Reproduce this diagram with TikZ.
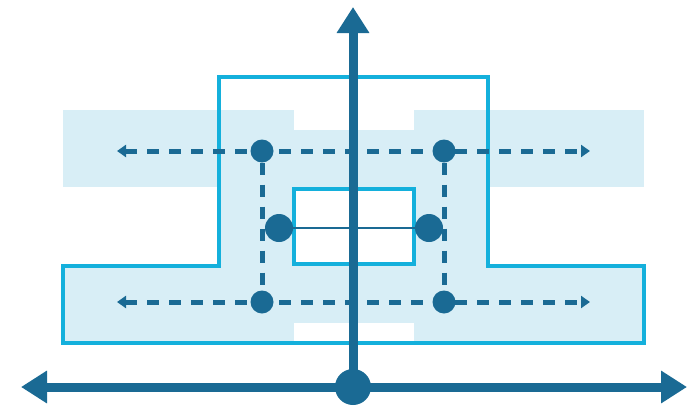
\documentclass[tikz,border=0pt]{standalone}
\usetikzlibrary{arrows.meta}
\definecolor{dk}{HTML}{1A6A94}
\definecolor{cy}{HTML}{14B0DC}
\definecolor{lt}{HTML}{D8EEF6}
\begin{document}
\begin{tikzpicture}[x=1pt,y=-1pt,
  dot/.style={circle,fill=dk,inner sep=0pt,minimum size=#1},
  dashline/.style={draw=dk,line width=5pt,dash pattern=on 12pt off 10pt},
  smalltip/.tip={Triangle[length=9pt,width=12pt]},
  axis/.style={draw=dk,line width=9pt},
  bigtip/.tip={Triangle[length=26pt,width=31pt]},
  outline/.style={draw=cy,line width=3.5pt}]
\useasboundingbox (0,0) rectangle (697,405);
% light fill
\fill[lt] (63,110) rectangle (644,343);
\fill[white] (63,187) rectangle (219,266);
\fill[white] (488,187) rectangle (644,266);
\fill[white] (294,110) rectangle (414,130);
\fill[white] (294,323) rectangle (414,343);
% outline
\draw[outline] (219,77) -- (488,77) -- (488,266) -- (644,266) -- (644,343) -- (63,343) -- (63,266) -- (219,266) -- cycle;
\node[outline,fill=white,inner sep=0pt,minimum width=120pt,minimum height=75pt] (inner) at (354,226.5) {};
% dots
\node[dot=23pt] (tl) at (262,151) {};
\node[dot=23pt] (tr) at (444,151) {};
\node[dot=23pt] (bl) at (262,302) {};
\node[dot=23pt] (br) at (444,302) {};
\node[dot=28pt] (ml) at (279,228) {};
\node[dot=28pt] (mr) at (429,228) {};
\coordinate (tlA) at (117,151);
\coordinate (trA) at (590,151);
\coordinate (blA) at (117,302);
\coordinate (brA) at (590,302);
% dashed lines
\draw[dashline] (tl) -- (bl);
\draw[dashline] (tr) -- (br);
\draw[dashline,smalltip-smalltip] (tlA) -- (trA);
\draw[dashline,smalltip-smalltip] (blA) -- (brA);
\draw[dk,line width=2.5pt] (ml) -- (mr);
% axes
\node[dot=36pt] (O) at (353,387) {};
\coordinate (ytip) at (353,7);
\coordinate (xl) at (21,387);
\coordinate (xr) at (687,387);
\draw[axis,bigtip-bigtip] (xl) -- (xr);
\draw[axis,-bigtip] (O.center) -- (ytip);
\end{tikzpicture}
\end{document}
